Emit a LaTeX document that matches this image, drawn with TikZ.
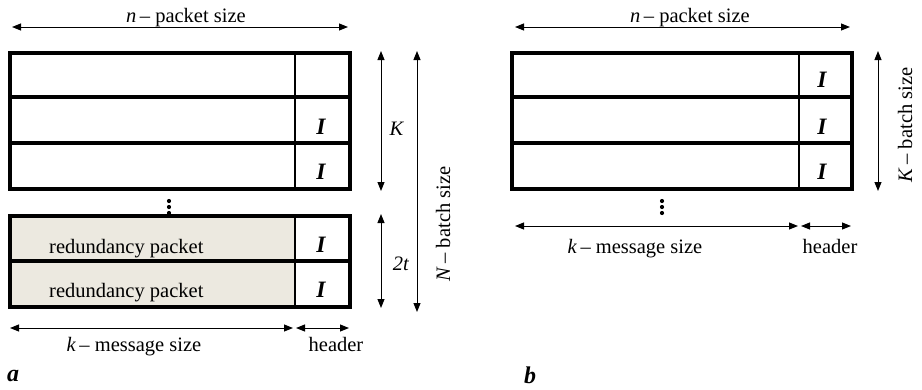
\documentclass[tikz,border=0pt]{standalone}
\usepackage{fontspec}
\setmainfont{Liberation Serif}
\usetikzlibrary{arrows.meta}
\definecolor{beige}{RGB}{236,233,224}
\tikzset{
  rowbox/.style={draw=black,line width=3.3pt},
  divider/.style={draw=black,line width=1.6pt},
  dimarrow/.style={{Triangle[length=9pt,width=7pt]}-{Triangle[length=9pt,width=7pt]},line width=1pt,draw=black},
  lbl/.style={font=\fontsize{20.5}{24}\selectfont,inner sep=0pt,anchor=base},
  hdr/.style={font=\fontsize{23.5}{26}\selectfont\bfseries\itshape,inner sep=0pt,anchor=base},
  panel/.style={font=\fontsize{24}{28}\selectfont\bfseries\itshape,inner sep=0pt,anchor=base west},
  vdot/.style={fill=black},
}
\begin{document}
\begin{tikzpicture}[x=1pt,y=-1pt]
\useasboundingbox (0,0) rectangle (922,389);

% ---------------- panel a ----------------
\fill[beige] (10,216) rectangle (295,307);
\draw[divider] (295,53) -- (295,189);
\draw[divider] (295,216) -- (295,307);
\draw[rowbox] (10,53) rectangle (350,97);
\draw[rowbox] (10,97) rectangle (350,143);
\draw[rowbox] (10,143) rectangle (350,189);
\draw[rowbox] (10,216) rectangle (350,261);
\draw[rowbox] (10,261) rectangle (350,307);

\node[hdr] (ia2) at (321,134) {I};
\node[hdr] (ia3) at (321,179) {I};
\node[hdr] (ia4) at (321,252) {I};
\node[hdr] (ia5) at (321,297) {I};
\node[lbl,anchor=base west] (ra1) at (49,253) {redundancy packet};
\node[lbl,anchor=base west] (ra2) at (49,297) {redundancy packet};

\foreach \yy in {201,207,213} \fill[vdot] (169,\yy) circle (2.1pt);

% dimension lines a
\coordinate (ant1) at (12,27);   \coordinate (ant2) at (348,27);
\draw[dimarrow] (ant1) -- (ant2);
\node[lbl] (an) at (186,22) {\textit{n}\,– packet size};

\coordinate (aK1) at (381,51);  \coordinate (aK2) at (381,191);
\draw[dimarrow] (aK1) -- (aK2);
\node[lbl] (aK) at (397,135) {\textit{K}};

\coordinate (at1) at (381,214); \coordinate (at2) at (381,308);
\draw[dimarrow] (at1) -- (at2);
\node[lbl] (at) at (401,270) {\textit{2t}};

\coordinate (aN1) at (417,51);  \coordinate (aN2) at (417,312);
\draw[dimarrow] (aN1) -- (aN2);
\node[lbl,anchor=center,rotate=90] (aN) at (443,224) {\textit{N}\,– batch size};

\coordinate (ak1) at (10,328);  \coordinate (ak2) at (293,328);
\coordinate (ah1) at (296,328); \coordinate (ah2) at (349,328);
\draw[dimarrow] (ak1) -- (ak2);
\draw[dimarrow] (ah1) -- (ah2);
\node[lbl] (akl) at (134,351) {\textit{k}\,– message size};
\node[lbl] (ahl) at (336,351) {header};

\node[panel] (pa) at (7,381) {a};

% ---------------- panel b ----------------
\draw[divider] (799,53) -- (799,189);
\draw[rowbox] (512,53) rectangle (852,97);
\draw[rowbox] (512,97) rectangle (852,143);
\draw[rowbox] (512,143) rectangle (852,189);

\node[hdr] (ib1) at (822,87) {I};
\node[hdr] (ib2) at (822,134) {I};
\node[hdr] (ib3) at (822,179) {I};

\foreach \yy in {201,207,213} \fill[vdot] (662,\yy) circle (2.1pt);

\coordinate (bnt1) at (515,27);  \coordinate (bnt2) at (850,27);
\draw[dimarrow] (bnt1) -- (bnt2);
\node[lbl] (bn) at (690,22) {\textit{n}\,– packet size};

\coordinate (bK1) at (878,51);  \coordinate (bK2) at (878,191);
\draw[dimarrow] (bK1) -- (bK2);
\node[lbl,anchor=center,rotate=90] (bK) at (905,125) {\textit{K}\,– batch size};

\coordinate (bk1) at (515,226);  \coordinate (bk2) at (798,226);
\coordinate (bh1) at (801,226);  \coordinate (bh2) at (851,226);
\draw[dimarrow] (bk1) -- (bk2);
\draw[dimarrow] (bh1) -- (bh2);
\node[lbl] (bkl) at (635,253) {\textit{k}\,– message size};
\node[lbl] (bhl) at (830,253) {header};

\node[panel] (pb) at (524,383) {b};
\end{tikzpicture}
\end{document}
